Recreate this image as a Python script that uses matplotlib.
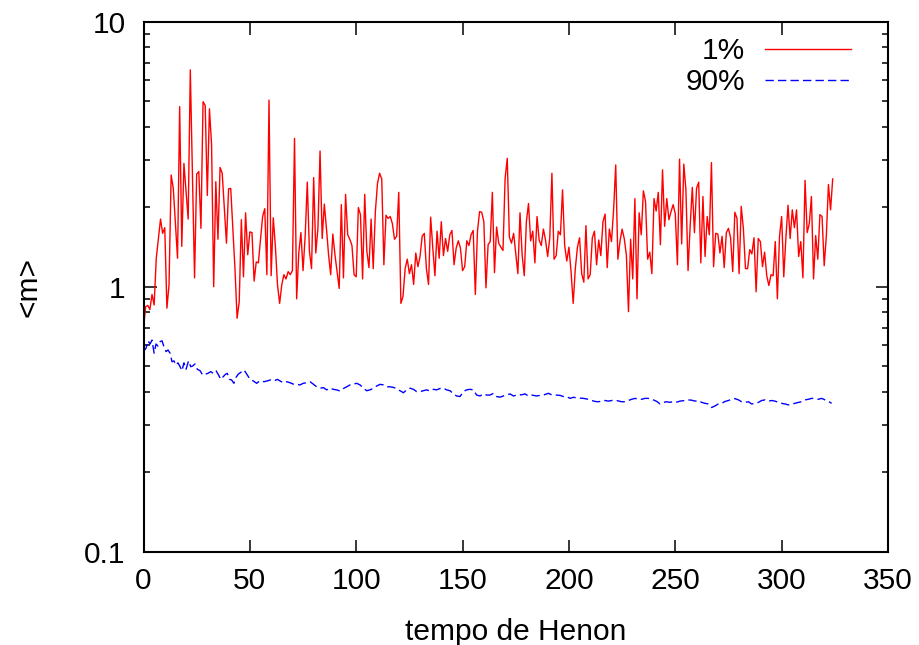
import matplotlib
matplotlib.use("Agg")
import matplotlib.pyplot as plt
from matplotlib.ticker import LogLocator, NullFormatter, FixedLocator, FixedFormatter

plt.rcParams['font.family'] = ['Liberation Sans', 'DejaVu Sans']

# ---- data ----
early_time = [0, 1, 2, 3, 4, 5, 6, 8, 9, 10, 11, 12, 13, 14, 16, 17, 18, 19, 21, 22,
              24, 25, 26, 27, 28, 29, 30, 31, 32, 33, 34, 35, 36, 37, 39, 40, 41,
              43, 44, 45, 46, 47, 48, 49, 50, 51, 52, 53, 54, 56, 57, 58, 59, 60,
              61, 62, 63, 64, 65, 66]
red_time = early_time + list(range(67, 325))
red_m = [
    0.70, 0.84, 0.85, 0.82, 0.935, 0.853, 1.28, 1.80, 1.59, 1.67, 0.83, 1.015, 2.64, 2.35,
    1.28, 4.78, 1.42, 2.92, 1.80, 6.58, 1.08, 2.66, 2.72, 1.66, 4.99, 4.83, 2.21, 4.69,
    3.44, 1.0, 2.49, 1.51, 2.82, 2.68, 1.46, 2.34, 2.35, 1.17, 0.76, 0.877, 1.79, 1.09,
    1.90, 1.32, 1.61, 1.60, 1.05, 1.24, 1.23, 1.84, 1.97, 1.11, 5.06, 1.10, 1.82, 1.42,
    1.015, 0.865, 1.015, 1.11,
    # 67..132
    1.07, 1.14, 1.11, 1.15, 3.63, 0.90, 1.34, 1.60, 1.15, 1.55, 2.48, 1.36, 1.17, 2.58,
    1.34, 1.66, 3.25, 1.52, 2.05, 1.66, 1.32, 1.11, 1.58, 1.32, 1.14, 0.985, 2.04, 1.08,
    2.23, 1.57, 1.51, 1.43, 1.11, 1.09, 1.99, 1.87, 1.07, 2.23, 1.36, 1.18, 1.80, 1.17,
    1.92, 2.45, 2.68, 2.55, 1.21, 1.86, 1.81, 1.84, 1.73, 1.51, 1.55, 2.27, 0.865, 0.92,
    1.17, 1.27, 1.12, 1.21, 1.02, 1.34, 1.19, 1.30, 1.55, 1.59,
    # 133..198
    1.17, 1.02, 1.83, 1.40, 1.10, 1.62, 1.28, 1.76, 1.31, 1.52, 1.36, 1.57, 1.63, 1.21,
    1.40, 1.49, 1.40, 1.15, 1.19, 1.49, 1.43, 1.57, 1.63, 0.935, 1.62, 1.92, 1.91, 1.76,
    0.99, 1.44, 1.48, 2.27, 1.13, 1.68, 1.46, 1.41, 1.37, 2.56, 3.05, 1.54, 1.46, 1.59,
    1.34, 1.12, 1.90, 1.32, 1.10, 1.76, 2.06, 1.49, 1.62, 1.23, 1.84, 1.50, 1.43, 1.65,
    1.50, 1.30, 1.53, 2.68, 1.27, 1.31, 1.62, 1.57, 2.32, 1.43,
    # 199..263
    1.25, 1.41, 1.14, 0.865, 1.17, 1.41, 1.53, 1.12, 1.04, 1.70, 1.07, 1.11, 1.53, 1.62,
    1.21, 1.50, 1.31, 1.76, 1.88, 1.18, 1.65, 1.48, 1.95, 2.88, 1.27, 1.48, 1.65, 1.52,
    1.32, 0.805, 1.51, 1.07, 2.15, 0.90, 1.90, 1.57, 2.30, 2.10, 1.27, 1.35, 1.12, 2.15,
    1.93, 2.27, 1.44, 2.76, 1.69, 2.15, 1.79, 1.92, 2.04, 1.88, 1.21, 3.03, 1.45, 2.90,
    2.32, 1.15, 1.70, 2.37, 1.60, 2.35, 2.48, 1.23, 2.19,
    # 264..324
    1.30, 1.84, 1.57, 2.94, 1.19, 1.59, 1.58, 1.34, 1.55, 1.18, 1.60, 1.66, 1.53, 1.14,
    1.91, 1.81, 1.12, 2.01, 1.66, 1.17, 1.17, 1.38, 1.33, 1.53, 0.957, 1.52, 1.48, 1.19,
    1.35, 1.10, 1.01, 1.11, 1.10, 1.48, 0.90, 1.55, 1.84, 1.09, 1.53, 2.03, 1.52, 1.95,
    1.67, 1.95, 1.30, 1.48, 1.08, 2.52, 1.60, 1.73, 2.19, 1.07, 1.56, 1.27, 1.87, 1.84,
    1.20, 1.55, 2.43, 1.95, 2.55,
]

blue_time = [0.0, 1.2, 2.1, 3.1, 4.0, 5.0, 5.9, 6.8, 7.8, 8.7, 9.6, 10.6, 11.5, 12.5, 13.4,
             14.3, 15.3, 16.2, 17.2, 18.1, 19.0, 20.0, 21.2, 22.2, 23.1, 24.2, 25.3, 26.6,
             27.8, 29.1, 30.3, 31.6, 32.8, 34.1, 35.3, 36.3, 37.5, 38.5, 39.4, 40.4, 41.4,
             42.5, 43.5, 44.6, 46.2, 47.3, 48.5, 50.1, 51.6, 53.2, 54.8, 56.6, 58.2, 59.8,
             61.4, 62.9, 64.2, 65.7, 67.3, 68.9, 70.4, 72.0, 73.6, 75.1, 76.7, 78.3, 79.8,
             81.4, 83.0, 84.6, 86.1, 87.7, 89.2, 90.8, 92.4, 94.0, 95.5, 97.1, 98.6, 100.2,
             101.8, 103.4, 104.9, 106.5, 108.1, 109.6, 111.2, 112.8, 114.3, 115.9, 117.5,
             119.0, 120.6, 122.2, 123.7, 125.3, 126.9, 128.4, 130.0, 131.6, 133.1, 134.7,
             136.3, 137.8, 139.4, 141.0, 142.5, 144.1, 145.7, 147.2, 148.8, 150.4, 151.9,
             153.5, 155.1, 156.6, 158.2, 159.8, 161.3, 162.9, 164.5, 166.0, 167.6, 169.2,
             170.7, 172.3, 173.9, 175.4, 177.8, 179.4, 180.9, 182.5, 184.8, 186.4, 188.0,
             190.3, 191.9, 194.2, 195.8, 197.4, 198.9, 200.5, 202.1, 204.4, 206.8, 209.1,
             210.7, 212.3, 213.8, 215.4, 217.0, 218.5, 220.1, 222.4, 224.8, 226.4, 227.9,
             229.5, 231.1, 232.6, 234.2, 235.8, 237.3, 239.7, 241.3, 242.8, 244.4, 246.0,
             247.5, 249.1, 250.7, 252.2, 254.6, 256.1, 257.7, 259.3, 260.8, 262.4, 264.0,
             265.5, 267.1, 268.7, 270.2, 271.8, 273.4, 275.0, 276.5, 278.1, 279.7, 281.2,
             282.8, 284.4, 285.9, 287.5, 289.1, 290.6, 292.2, 293.8, 295.3, 296.9, 298.5,
             300.0, 301.6, 303.2, 304.7, 306.3, 307.9, 309.4, 311.0, 312.6, 314.1, 315.7,
             317.3, 318.8, 320.4, 322.0, 323.5]
blue_m = [0.57, 0.586, 0.625, 0.608, 0.629, 0.561, 0.608, 0.597, 0.620, 0.625, 0.594, 0.569,
          0.577, 0.561, 0.521, 0.525, 0.506, 0.516, 0.499, 0.482, 0.516, 0.488, 0.525, 0.499,
          0.502, 0.511, 0.488, 0.482, 0.464, 0.468, 0.471, 0.478, 0.471, 0.482, 0.464, 0.447,
          0.458, 0.467, 0.471, 0.447, 0.445, 0.432, 0.455, 0.468, 0.478, 0.485, 0.468, 0.447,
          0.441, 0.432, 0.442, 0.438, 0.441, 0.445, 0.441, 0.447, 0.441, 0.434, 0.438, 0.434,
          0.429, 0.428, 0.426, 0.432, 0.434, 0.438, 0.429, 0.419, 0.414, 0.416, 0.408, 0.414,
          0.410, 0.408, 0.404, 0.413, 0.419, 0.426, 0.429, 0.432, 0.426, 0.414, 0.405, 0.408,
          0.414, 0.422, 0.428, 0.426, 0.419, 0.419, 0.417, 0.412, 0.405, 0.398, 0.408, 0.414,
          0.410, 0.402, 0.402, 0.405, 0.408, 0.404, 0.410, 0.408, 0.413, 0.414, 0.408, 0.405,
          0.394, 0.387, 0.385, 0.402, 0.408, 0.410, 0.408, 0.390, 0.387, 0.394, 0.390, 0.390,
          0.396, 0.385, 0.383, 0.387, 0.390, 0.394, 0.387, 0.390, 0.391, 0.394, 0.387, 0.390,
          0.387, 0.389, 0.390, 0.396, 0.391, 0.390, 0.389, 0.385, 0.385, 0.379, 0.3825, 0.380,
          0.379, 0.376, 0.372, 0.369, 0.368, 0.370, 0.372, 0.370, 0.372, 0.372, 0.368, 0.368,
          0.372, 0.376, 0.379, 0.376, 0.376, 0.379, 0.379, 0.374, 0.369, 0.361, 0.366, 0.368,
          0.366, 0.369, 0.367, 0.370, 0.372, 0.374, 0.373, 0.370, 0.372, 0.366, 0.363, 0.361,
          0.350, 0.355, 0.361, 0.363, 0.369, 0.372, 0.376, 0.378, 0.374, 0.368, 0.366, 0.368,
          0.361, 0.363, 0.366, 0.372, 0.374, 0.370, 0.372, 0.370, 0.366, 0.363, 0.361, 0.358,
          0.361, 0.363, 0.366, 0.368, 0.374, 0.376, 0.379, 0.378, 0.376, 0.379, 0.374, 0.369,
          0.363]

x_ticks = [0, 50, 100, 150, 200, 250, 300, 350]
y_ticks = [0.1, 1, 10]
y_tick_labels = ['0.1', '1', '10']
series_labels = ['1%', '90%']

FS = 21.5

# ---- figure ----
fig = plt.figure(figsize=(9.19, 6.45), dpi=100)
ax = fig.add_axes([143.5 / 919, 1 - 551.7 / 645, 744.5 / 919, 530 / 645])

ax.plot(red_time, red_m, color='#ff0000', lw=1.0, label=series_labels[0])
ax.plot(blue_time, blue_m, color='#0000ff', lw=1.0, dashes=(6, 3), label=series_labels[1])

ax.set_yscale('log')
ax.set_xlim(0, 350)
ax.set_ylim(0.1, 10)

ax.xaxis.set_major_locator(FixedLocator(x_ticks))
ax.yaxis.set_major_locator(FixedLocator(y_ticks))
ax.yaxis.set_major_formatter(FixedFormatter(y_tick_labels))
ax.yaxis.set_minor_locator(LogLocator(base=10, subs=range(2, 10)))
ax.yaxis.set_minor_formatter(NullFormatter())

ax.tick_params(which='both', direction='in', top=True, right=True, width=1.1, colors='black')
ax.tick_params(which='major', length=9, labelsize=FS)
ax.tick_params(which='minor', length=4.5)
ax.tick_params(axis='x', which='major', pad=11)
ax.tick_params(axis='y', which='major', pad=13)
for sp in ax.spines.values():
    sp.set_linewidth(1.5)

ax.set_xlabel('tempo de Henon', fontsize=FS)
ax.set_ylabel('<m>', fontsize=FS)
ax.xaxis.set_label_coords(0.5, -0.125)
ax.yaxis.set_label_coords(-0.136, 0.5)

leg = ax.legend(loc='upper right', bbox_to_anchor=(0.950, 0.9706), frameon=False,
                markerfirst=False, fontsize=FS, handlelength=2.88, handletextpad=0.67,
                labelspacing=0.1, borderpad=0, borderaxespad=0)

fig.savefig('out.png', dpi=100)
